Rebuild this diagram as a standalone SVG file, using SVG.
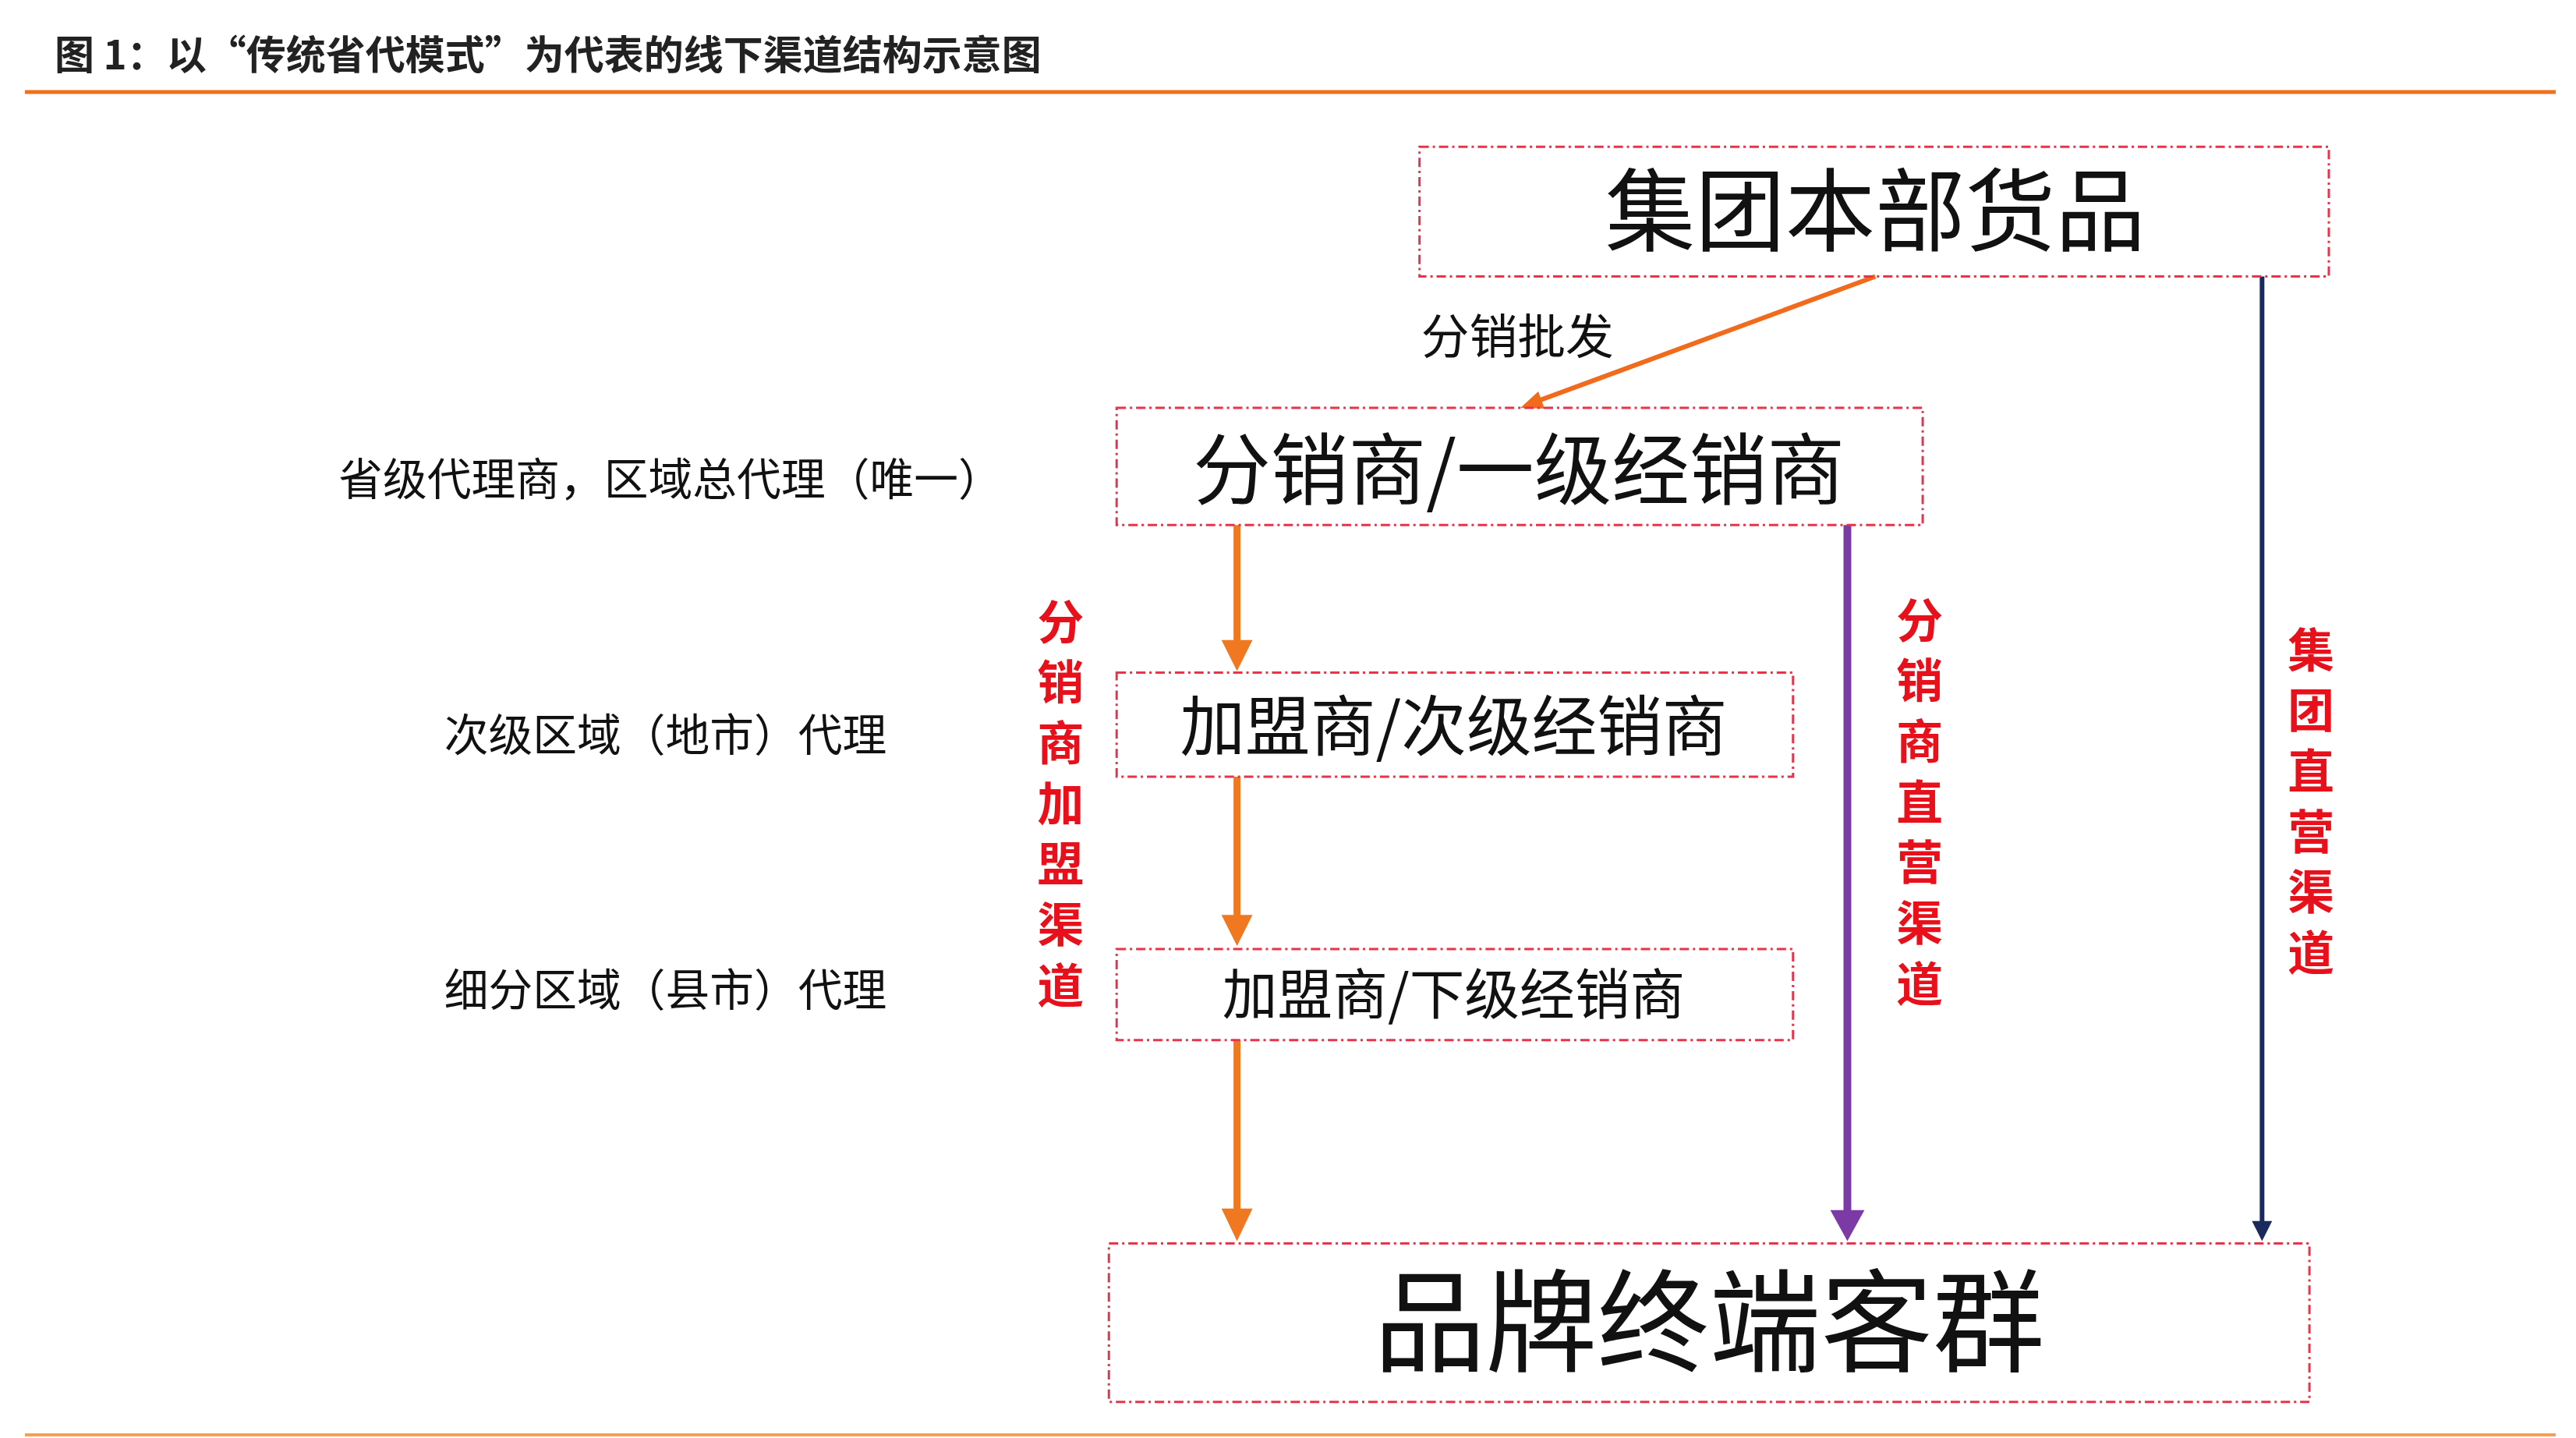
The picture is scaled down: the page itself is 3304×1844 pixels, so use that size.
<svg xmlns="http://www.w3.org/2000/svg" width="3304" height="1844" viewBox="0 0 3304 1844">
<style>
text{font-family:"Noto Sans CJK SC","Noto Sans",sans-serif;fill:#111}
.box{fill:none;stroke:#e8334a;stroke-width:3;stroke-dasharray:12 5 3 5}
.red{fill:#e8101a;font-weight:bold;font-size:60px;text-anchor:middle}
.lab{font-size:57px}
.c{text-anchor:middle}
</style>
<rect width="3304" height="1844" fill="#fff"/>
<text x="70" y="89" style="font-size:51px;font-weight:bold;fill:#222">图 1：以“传统省代模式”为代表的线下渠道结构示意图</text>
<line x1="32" y1="118" x2="3278" y2="118" stroke="#f07020" stroke-width="5"/>
<line x1="32" y1="1840" x2="3278" y2="1840" stroke="#f5a050" stroke-width="4"/>
<g transform="translate(-4,-2) scale(0.996)">
<g id="connectors">
<line x1="2419" y1="358" x2="1985" y2="518" stroke="#f26a1b" stroke-width="6"/>
<path d="M1962,527 L1985,506 L1993,528Z" fill="#f26a1b"/>
<line x1="1597" y1="678" x2="1597" y2="830" stroke="#f07820" stroke-width="9"/>
<path d="M1577,826 L1617,826 L1597,866Z" fill="#f07820"/>
<line x1="1597" y1="1002" x2="1597" y2="1184" stroke="#f07820" stroke-width="9"/>
<path d="M1577,1180 L1617,1180 L1597,1220Z" fill="#f07820"/>
<line x1="1597" y1="1341" x2="1597" y2="1562" stroke="#f07820" stroke-width="9"/>
<path d="M1577,1558 L1617,1558 L1597,1600Z" fill="#f07820"/>
<line x1="2383" y1="678" x2="2383" y2="1564" stroke="#7b3aa6" stroke-width="10"/>
<path d="M2361,1560 L2405,1560 L2383,1600Z" fill="#7b3aa6"/>
<line x1="2917" y1="358" x2="2917" y2="1578" stroke="#1b2a5e" stroke-width="6"/>
<path d="M2904,1574 L2930,1574 L2917,1600Z" fill="#1b2a5e"/>
<text x="1834" y="458" style="font-size:62px">分销批发</text>
</g>
<g id="hq"><rect class="box" x="1832" y="191" width="1171" height="167"/>
<text class="c" x="2419" y="316" style="font-size:116px">集团本部货品</text></g>
<g id="dist"><rect class="box" x="1442" y="527" width="1038" height="151"/>
<text class="c" x="1960" y="644" style="font-size:100px">分销商/一级经销商</text></g>
<g id="franchise2"><rect class="box" x="1442" y="868" width="871" height="134"/>
<text class="c" x="1876" y="968" style="font-size:84px">加盟商/次级经销商</text></g>
<g id="franchise3"><rect class="box" x="1442" y="1224" width="871" height="117"/>
<text class="c" x="1876" y="1308" style="font-size:71px">加盟商/下级经销商</text></g>
<g id="customer"><rect class="box" x="1432" y="1603" width="1546" height="204"/>
<text class="c" x="2205" y="1757" style="font-size:144px">品牌终端客群</text></g>
<g id="levels">
<text class="lab" x="440" y="640">省级代理商，区域总代理（唯一）</text>
<text class="lab" x="576" y="969">次级区域（地市）代理</text>
<text class="lab" x="576" y="1297">细分区域（县市）代理</text>
</g>
<g id="ch1">
<text class="red" x="1370" y="825">分</text><text class="red" x="1370" y="903">销</text><text class="red" x="1370" y="981">商</text><text class="red" x="1370" y="1059">加</text><text class="red" x="1370" y="1137">盟</text><text class="red" x="1370" y="1215">渠</text><text class="red" x="1370" y="1293">道</text>
</g>
<g id="ch2">
<text class="red" x="2476" y="823">分</text><text class="red" x="2476" y="901">销</text><text class="red" x="2476" y="979">商</text><text class="red" x="2476" y="1057">直</text><text class="red" x="2476" y="1135">营</text><text class="red" x="2476" y="1213">渠</text><text class="red" x="2476" y="1291">道</text>
</g>
<g id="ch3">
<text class="red" x="2980" y="861">集</text><text class="red" x="2980" y="939">团</text><text class="red" x="2980" y="1017">直</text><text class="red" x="2980" y="1095">营</text><text class="red" x="2980" y="1173">渠</text><text class="red" x="2980" y="1251">道</text>
</g>
</g>
</svg>
